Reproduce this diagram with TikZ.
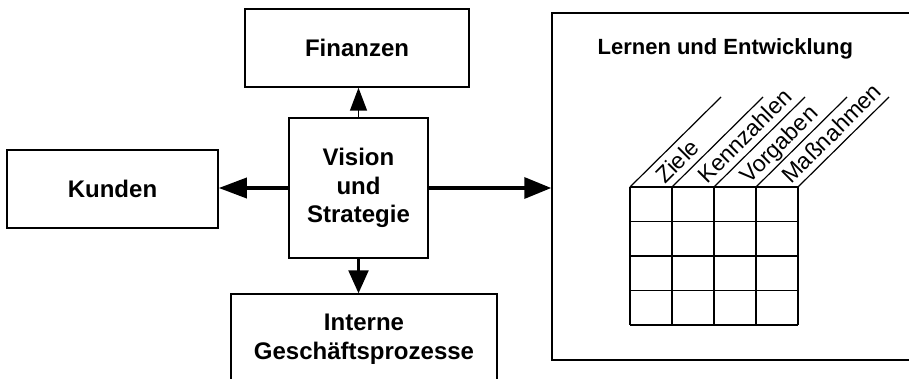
\documentclass[tikz,border=0pt]{standalone}
\usepackage{fontspec}
\setmainfont{Liberation Sans}
\usetikzlibrary{arrows.meta}

\tikzset{
  box/.style={draw,line width=1.5pt,align=center,inner sep=0pt,
    font=\fontsize{24}{28.5}\selectfont\bfseries},
  spalte/.style={rotate=45,anchor=base west,inner sep=0pt,
    font=\fontsize{23}{26}\selectfont},
}

\begin{document}
\begin{tikzpicture}[x=1pt,y=-1pt]
\pgfsetlinewidth{1.2pt}
\useasboundingbox (0,0) rectangle (909,379);
\node[box,minimum width=224pt,minimum height=78pt] (fin) at (357,48) {Finanzen};
\node[box,minimum width=211pt,minimum height=78pt] (kun) at (112.5,189) {Kunden};
\node[box,minimum width=139pt,minimum height=140pt] (vis) at (358.5,188) {Vision\\und\\Strategie};
\node[box,minimum width=266pt,minimum height=90pt] (intern) at (364,339) {Interne\\Geschäftsprozesse};
\node[box,minimum width=378pt,minimum height=347pt] (lern) at (741,186.5) {};
\node[anchor=base west,inner sep=0pt,font=\fontsize{22}{26}\selectfont\bfseries] (titel) at (597,55) {Lernen und Entwicklung};
% Pfeile
\draw[line width=1.5pt,-{Triangle[length=23pt,width=17pt]}] (vis.north) -- (vis.north |- fin.south);
\draw[line width=2.5pt,-{Triangle[length=23pt,width=20pt]}] (vis.south) -- (vis.south |- intern.north);
\draw[line width=3.5pt,-{Triangle[length=28pt,width=20pt]}] (vis.west) -- (vis.west -| kun.east);
\draw[line width=3.5pt,-{Triangle[length=27pt,width=21pt]}] (vis.east) -- (vis.east -| lern.west);
% Tabelle
\foreach \i in {0,...,4} {
  \draw (630+42*\i,187) -- (630+42*\i,325);
  \draw (630+42*\i,187) -- ++(91,-90);
}
\foreach \j in {0,...,4} \draw (630,187+34.5*\j) -- (798,187+34.5*\j);
\foreach \t [count=\i] in {Ziele,Kennzahlen,Vorgaben,Maßnahmen}
  \node[spalte] (s\i) at (630+42*\i-7,185) {\t};
\end{tikzpicture}
\end{document}
